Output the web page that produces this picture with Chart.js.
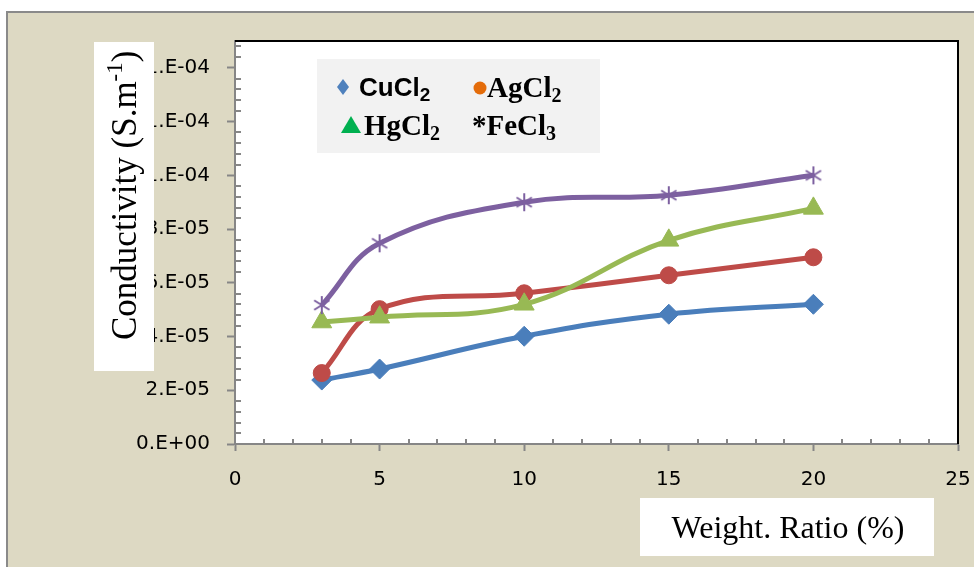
<!DOCTYPE html>
<html>
<head>
<meta charset="utf-8">
<script src="https://cdn.jsdelivr.net/npm/chart.js@4/dist/chart.umd.min.js"></script>
<style>
  html, body { margin: 0; padding: 0; background: #ffffff; }
  #wrap { width: 974px; height: 567px; position: relative; }
  canvas { display: block; }
</style>
</head>
<body>
<div id="wrap"><canvas id="chart" width="974" height="567"></canvas></div>
<script>
// Weight ratio (%) of each dopant salt
const weightRatio = [3, 5, 10, 15, 20];

// Conductivity (S/m) for each salt
const cuCl2 = [2.38e-5, 2.79e-5, 4.01e-5, 4.83e-5, 5.20e-5];
const agCl2 = [2.64e-5, 5.02e-5, 5.61e-5, 6.28e-5, 6.95e-5];
const hgCl2 = [4.54e-5, 4.72e-5, 5.20e-5, 7.58e-5, 8.77e-5];
const feCl3 = [5.17e-5, 7.47e-5, 9.00e-5, 9.26e-5, 1.00e-4];

// Axis ranges and tick labels
const xMin = 0, xMax = 25, xStep = 5, xMinorStep = 1;
const yMin = 0, yMax = 1.5e-4, yLastTick = 1.4e-4, yStep = 2e-5, yMinorStep = 4e-6;
const yTickLabels = ['0.E+00', '2.E-05', '4.E-05', '6.E-05', '8.E-05', '1.E-04', '1.E-04', '1.E-04'];

const COLORS = {
  cu: '#4A7EBB',
  ag: '#BE4B48',
  hg: '#98B954',
  fe: '#7D60A0'
};

const TICK_FONT = { family: "'DejaVu Sans', sans-serif", size: 20 };
const SERIF = "'Liberation Serif', 'Times New Roman', serif";
const SANS = "'Liberation Sans', Arial, sans-serif";

// Six-armed asterisk marker used for FeCl3
function asteriskMarker(color, r) {
  const c = document.createElement('canvas');
  const s = Math.ceil(r * 2 + 4);
  c.width = s; c.height = s;
  const g = c.getContext('2d');
  const m = s / 2;
  g.strokeStyle = color;
  g.lineWidth = 2;
  g.beginPath();
  g.moveTo(m, m - r); g.lineTo(m, m + r);
  const d = r * 0.85;
  g.moveTo(m - d, m - d * 0.62); g.lineTo(m + d, m + d * 0.62);
  g.moveTo(m - d, m + d * 0.62); g.lineTo(m + d, m - d * 0.62);
  g.stroke();
  return c;
}

function pts(ys) {
  return weightRatio.map((x, i) => ({ x: x, y: ys[i] }));
}

// Draws a run of text pieces; each piece may carry its own font and vertical shift
function drawRuns(ctx, runs, x, y) {
  let cx = x;
  runs.forEach(r => {
    ctx.font = r.font;
    ctx.fillText(r.text, cx, y + (r.dy || 0));
    cx += ctx.measureText(r.text).width;
  });
  return cx;
}

const frame = {
  id: 'frame',
  beforeDraw(chart) {
    const ctx = chart.ctx;
    const a = chart.chartArea;
    ctx.save();
    ctx.fillStyle = '#ffffff';
    ctx.fillRect(0, 0, chart.width, chart.height);
    ctx.fillStyle = '#DDD9C3';
    ctx.fillRect(8, 13, chart.width, chart.height);
    ctx.strokeStyle = '#8A8A8A';
    ctx.lineWidth = 2;
    ctx.beginPath();
    ctx.moveTo(7, chart.height);
    ctx.lineTo(7, 12);
    ctx.lineTo(chart.width, 12);
    ctx.stroke();
    ctx.fillStyle = '#ffffff';
    ctx.fillRect(a.left, a.top, a.right - a.left, a.bottom - a.top);
    ctx.restore();
  },
  beforeDatasetsDraw(chart) {
    // minor ticks pointing into the plot area
    const ctx = chart.ctx;
    const xs = chart.scales.x, ys = chart.scales.y;
    ctx.save();
    ctx.strokeStyle = '#868686';
    ctx.lineWidth = 2;
    ctx.beginPath();
    for (let v = xMin + xMinorStep; v < xMax; v += xMinorStep) {
      if (Math.abs(v % xStep) < 1e-9) continue;
      const px = Math.round(xs.getPixelForValue(v));
      ctx.moveTo(px, ys.bottom);
      ctx.lineTo(px, ys.bottom - 5);
    }
    for (let i = 1; i * yMinorStep < yMax - 1e-12; i++) {
      if (i % 5 === 0) continue;
      const py = Math.round(ys.getPixelForValue(i * yMinorStep));
      ctx.moveTo(xs.left, py);
      ctx.lineTo(xs.left + 6, py);
    }
    ctx.stroke();
    // plot border top and right
    const a = chart.chartArea;
    ctx.strokeStyle = '#000000';
    ctx.lineWidth = 2;
    ctx.beginPath();
    ctx.moveTo(a.left, a.top);
    ctx.lineTo(a.right, a.top);
    ctx.lineTo(a.right, a.bottom);
    ctx.stroke();
    ctx.restore();
  },
  afterDraw(chart) {
    const ctx = chart.ctx;
    ctx.save();
    ctx.fillStyle = '#ffffff';
    // y-axis title
    ctx.fillRect(94, 42, 60, 329);
    ctx.fillStyle = '#000000';
    ctx.textBaseline = 'alphabetic';
    ctx.textAlign = 'left';
    ctx.save();
    ctx.translate(136, 340);
    ctx.rotate(-Math.PI / 2);
    drawRuns(ctx, [
      { text: 'Conductivity (S.m', font: `35px ${SERIF}` },
      { text: '-1', font: `23px ${SERIF}`, dy: -14 },
      { text: ')', font: `35px ${SERIF}` }
    ], 0, 0);
    ctx.restore();

    // x-axis title
    ctx.fillStyle = '#ffffff';
    ctx.fillRect(640, 498, 294, 58);
    ctx.fillStyle = '#000000';
    ctx.font = `32px ${SERIF}`;
    ctx.textAlign = 'center';
    ctx.fillText('Weight. Ratio (%)', 788, 538);
    ctx.textAlign = 'left';

    // legend
    ctx.fillStyle = '#F2F2F2';
    ctx.fillRect(317, 59, 283, 94);

    ctx.fillStyle = '#4F81BD';
    ctx.beginPath();
    ctx.moveTo(343, 79); ctx.lineTo(349, 87); ctx.lineTo(343, 95); ctx.lineTo(337, 87);
    ctx.closePath(); ctx.fill();

    ctx.fillStyle = '#E46C0A';
    ctx.beginPath(); ctx.arc(480, 88, 6.5, 0, Math.PI * 2); ctx.fill();

    ctx.fillStyle = '#00B050';
    ctx.beginPath();
    ctx.moveTo(341, 133); ctx.lineTo(361, 133); ctx.lineTo(351, 116);
    ctx.closePath(); ctx.fill();

    ctx.fillStyle = '#000000';
    drawRuns(ctx, [
      { text: 'CuCl', font: `bold 26px ${SANS}` },
      { text: '2', font: `bold 19px ${SANS}`, dy: 5 }
    ], 359, 96);
    drawRuns(ctx, [
      { text: 'AgCl', font: `bold 29px ${SERIF}` },
      { text: '2', font: `bold 20px ${SERIF}`, dy: 5 }
    ], 487, 97);
    drawRuns(ctx, [
      { text: 'HgCl', font: `bold 29px ${SERIF}` },
      { text: '2', font: `bold 20px ${SERIF}`, dy: 5 }
    ], 364, 135);
    drawRuns(ctx, [
      { text: '*FeCl', font: `bold 29px ${SERIF}` },
      { text: '3', font: `bold 20px ${SERIF}`, dy: 5 }
    ], 472, 135);
    ctx.restore();
  }
};

function series(label, ys, color, style, radius, order) {
  return {
    label: label,
    data: pts(ys),
    borderColor: color,
    backgroundColor: color,
    borderWidth: 5,
    tension: 0.4,
    pointStyle: style,
    pointRadius: radius,
    pointHoverRadius: radius,
    pointBorderWidth: 1,
    pointBackgroundColor: color,
    pointBorderColor: color,
    order: order,
    fill: false
  };
}

new Chart(document.getElementById('chart'), {
  type: 'line',
  data: {
    datasets: [
      series('CuCl2', cuCl2, COLORS.cu, 'rectRot', 10, 4),
      series('AgCl2', agCl2, COLORS.ag, 'circle', 8.5, 3),
      series('HgCl2', hgCl2, COLORS.hg, 'triangle', 11.5, 2),
      Object.assign(series('FeCl3', feCl3, COLORS.fe, asteriskMarker(COLORS.fe, 9), 9, 1), { pointBorderWidth: 0 })
    ]
  },
  options: {
    responsive: false,
    animation: false,
    devicePixelRatio: 1,
    layout: { padding: { top: 41, right: 16, left: 0, bottom: 0 } },
    plugins: {
      legend: { display: false },
      tooltip: { enabled: false },
      title: { display: false }
    },
    scales: {
      x: {
        type: 'linear',
        min: xMin,
        max: xMax,
        ticks: { stepSize: xStep, color: '#000000', font: TICK_FONT, padding: 17, maxRotation: 0 },
        grid: { drawOnChartArea: false, drawTicks: true, tickLength: 7, tickColor: '#868686', tickWidth: 2 },
        border: { color: '#868686', width: 2 },
        afterFit(scale) {
          scale.height = 567 - 444;
          scale.paddingLeft = 0;
          scale.paddingRight = 0;
        }
      },
      y: {
        type: 'linear',
        min: yMin,
        max: yMax,
        ticks: {
          stepSize: yStep,
          color: '#000000',
          font: TICK_FONT,
          padding: 17,
          callback: (v, i) => yTickLabels[i]
        },
        afterBuildTicks(scale) {
          scale.ticks = scale.ticks.filter(t => t.value <= yLastTick + 1e-12);
        },
        grid: { drawOnChartArea: false, drawTicks: true, tickLength: 8, tickColor: '#868686', tickWidth: 2 },
        border: { color: '#868686', width: 2 },
        afterFit(scale) {
          scale.width = 235;
          scale.paddingTop = 0;
          scale.paddingBottom = 0;
        }
      }
    }
  },
  plugins: [frame]
});
</script>
</body>
</html>
